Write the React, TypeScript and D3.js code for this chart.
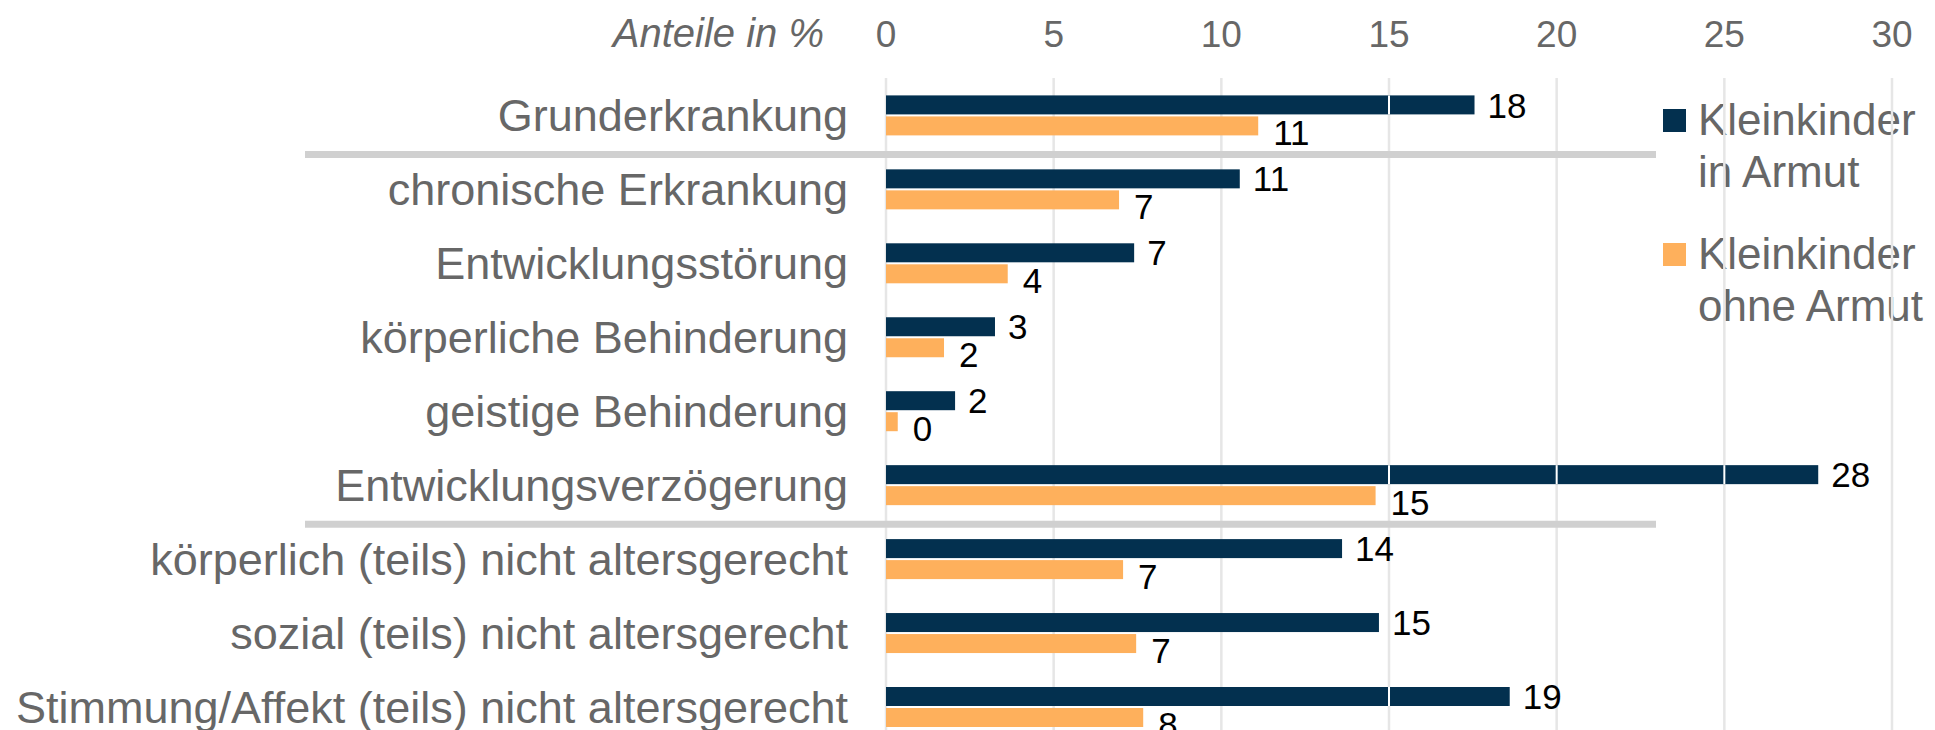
import React, {Component} from "react";
import * as d3 from "d3";

const categories = [
    "Grunderkrankung",
    "chronische Erkrankung",
    "Entwicklungsstörung",
    "körperliche Behinderung",
    "geistige Behinderung",
    "Entwicklungsverzögerung",
    "körperlich (teils) nicht altersgerecht",
    "sozial (teils) nicht altersgerecht",
    "Stimmung/Affekt (teils) nicht altersgerecht"
];

// Kleinkinder in Armut
const inArmut = [17.55, 10.55, 7.4, 3.25, 2.06, 27.8, 13.6, 14.7, 18.6];
// Kleinkinder ohne Armut
const ohneArmut = [11.1, 6.95, 3.63, 1.73, 0.35, 14.6, 7.07, 7.46, 7.67];

const xTicks = [0, 5, 10, 15, 20, 25, 30];
const legendLines = [["Kleinkinder", "in Armut"], ["Kleinkinder", "ohne Armut"]];
// separator lines after these category indexes
const groupBreaks = [0, 5];

const NAVY = "#03304f";
const ORANGE = "#feb05c";
const GREY_TEXT = "#676767";
const FONT = "Liberation Sans, Arial, sans-serif";

class App extends Component
{
    svgRef = React.createRef<SVGSVGElement>();

    componentDidMount()
    {
        this.renderChart();
    }

    renderChart()
    {
        const W = 1935;
        const H = 730;

        const svg = d3.select(this.svgRef.current)
            .attr("width", W)
            .attr("height", H);
        svg.selectAll("*").remove();

        const xScale = d3.scaleLinear()
            .domain([0, 30])
            .range([886, 1892]);

        const yScale = d3.scalePoint()
            .domain(categories)
            .range([115.4, 707]);

        const step = yScale.step();

        // legend
        const legend = svg.append("g");
        legendLines.forEach((lines, i) => {
            const top = 109 + i * 134;
            legend.append("rect")
                .attr("x", 1663)
                .attr("y", top)
                .attr("width", 23)
                .attr("height", 23)
                .attr("fill", i === 0 ? NAVY : ORANGE);
            lines.forEach((t, j) => {
                legend.append("text")
                    .attr("x", 1698)
                    .attr("y", top + 26 + j * 52)
                    .attr("font-family", FONT)
                    .attr("font-size", 44)
                    .attr("fill", GREY_TEXT)
                    .text(t);
            });
        });

        // gridlines
        svg.append("g")
            .selectAll("line")
            .data(xTicks)
            .enter()
            .append("line")
            .attr("x1", d => xScale(d))
            .attr("x2", d => xScale(d))
            .attr("y1", 78)
            .attr("y2", H)
            .attr("stroke", "#e6e6e6")
            .attr("stroke-width", 2.5);

        // separators
        svg.append("g")
            .selectAll("line")
            .data(groupBreaks)
            .enter()
            .append("line")
            .attr("x1", 305)
            .attr("x2", 1656)
            .attr("y1", d => yScale(categories[d]) + step / 2 + 2)
            .attr("y2", d => yScale(categories[d]) + step / 2 + 2)
            .attr("stroke", "#d0d0d0")
            .attr("stroke-width", 7);

        // tick labels on top
        svg.append("g")
            .selectAll("text")
            .data(xTicks)
            .enter()
            .append("text")
            .attr("x", d => xScale(d))
            .attr("y", 47)
            .attr("text-anchor", "middle")
            .attr("font-family", FONT)
            .attr("font-size", 37)
            .attr("fill", GREY_TEXT)
            .text(d => d);

        svg.append("text")
            .attr("x", 824)
            .attr("y", 47)
            .attr("text-anchor", "end")
            .attr("font-family", FONT)
            .attr("font-size", 40)
            .attr("font-style", "italic")
            .attr("fill", GREY_TEXT)
            .text("Anteile in %");

        // category labels
        svg.append("g")
            .selectAll("text")
            .data(categories)
            .enter()
            .append("text")
            .attr("x", 848)
            .attr("y", d => yScale(d))
            .attr("dy", "0.35em")
            .attr("text-anchor", "end")
            .attr("font-family", FONT)
            .attr("font-size", 45)
            .attr("fill", GREY_TEXT)
            .text(d => d);

        // bars
        const bars = svg.append("g");
        bars.selectAll(".bar-navy")
            .data(inArmut)
            .enter()
            .append("rect")
            .attr("class", "bar-navy")
            .attr("x", xScale(0))
            .attr("y", (d, i) => yScale(categories[i]) - 20)
            .attr("width", d => xScale(d) - xScale(0))
            .attr("height", 19)
            .attr("fill", NAVY);

        bars.selectAll(".bar-orange")
            .data(ohneArmut)
            .enter()
            .append("rect")
            .attr("class", "bar-orange")
            .attr("x", xScale(0))
            .attr("y", (d, i) => yScale(categories[i]) + 1)
            .attr("width", d => xScale(d) - xScale(0))
            .attr("height", 19)
            .attr("fill", ORANGE);

        // thin white breaks in the navy bars where the upper gridlines cross
        inArmut.forEach((v, i) => {
            xTicks.filter(t => t >= 15 && t < v).forEach(t => {
                bars.append("line")
                    .attr("x1", xScale(t))
                    .attr("x2", xScale(t))
                    .attr("y1", yScale(categories[i]) - 20)
                    .attr("y2", yScale(categories[i]) - 1)
                    .attr("stroke", "#ffffff")
                    .attr("stroke-width", 2);
            });
        });

        // value labels
        bars.selectAll(".lbl-navy")
            .data(inArmut)
            .enter()
            .append("text")
            .attr("class", "lbl-navy")
            .attr("x", d => xScale(d) + 13)
            .attr("y", (d, i) => yScale(categories[i]) - 10.5)
            .attr("dy", "0.36em")
            .attr("font-family", FONT)
            .attr("font-size", 35)
            .attr("fill", "#000000")
            .text(d => Math.round(d));

        bars.selectAll(".lbl-orange")
            .data(ohneArmut)
            .enter()
            .append("text")
            .attr("class", "lbl-orange")
            .attr("x", d => xScale(d) + 15)
            .attr("y", (d, i) => yScale(categories[i]) + 17)
            .attr("dy", "0.36em")
            .attr("font-family", FONT)
            .attr("font-size", 35)
            .attr("fill", "#000000")
            .text(d => Math.round(d));
    }

    render()
    {
        return (
            <svg ref={this.svgRef}
                 style={{position: "absolute", left: 0, top: 0, background: "#ffffff"}}></svg>
        );
    }
}

export default App;
